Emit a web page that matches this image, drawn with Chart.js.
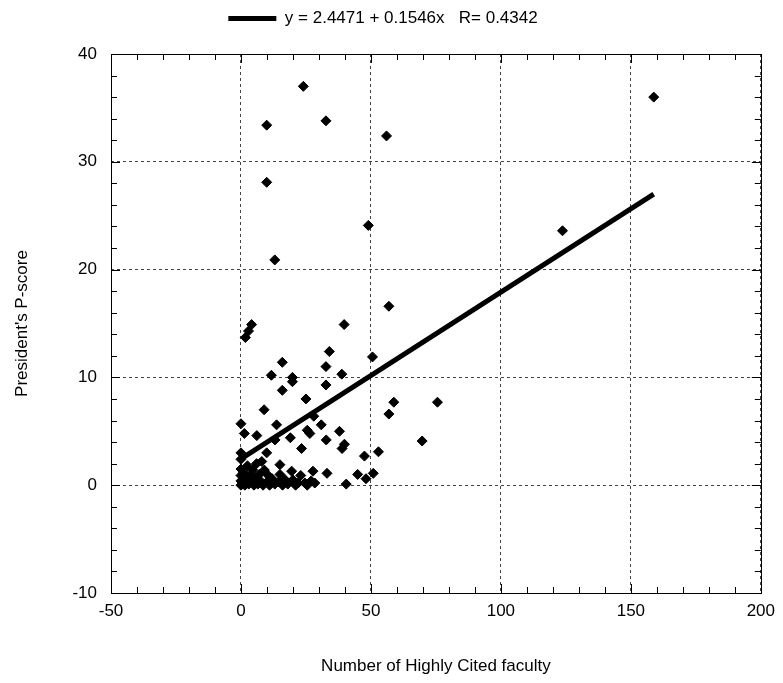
<!DOCTYPE html>
<html>
<head>
<meta charset="utf-8">
<script src="https://cdn.jsdelivr.net/npm/chart.js@4.4.1/dist/chart.umd.min.js"></script>
<style>
  html, body { margin: 0; padding: 0; background: #fff; }
  #wrap { width: 783px; height: 683px; }
</style>
</head>
<body>
<div id="wrap"><canvas id="chart"></canvas></div>
<script>
// scatter points
const hcfX = [24.0, 9.9, 32.7, 56.0, 9.9, 49.0, 13.0, 158.8, 123.7, 56.9, 75.6, 69.7, 58.8, 56.9, 52.9,
  1.7, 2.9, 4.1, 39.7, 34.0, 50.6, 15.9, 32.7, 11.7, 19.8, 19.8, 38.8, 32.7, 15.9, 25.0, 8.9, 28.0,
  0.0, 13.7, 30.9, 37.9, 1.3, 6.1, 25.5, 26.5, 19.0, 13.1, 32.8, 39.8, 38.9, 23.3, 47.5, 9.9,
  0.0, 0.0, 8.0, 15.0, 19.5, 27.7, 33.1, 28.4, 40.5, 44.9, 48.1, 50.9,
  0.0, 0.0, 0.0, 0.0, 0.5, 1.0, 1.5, 2.0, 2.5, 3.0, 3.5, 4.0, 4.5, 5.0, 5.5, 6.0, 6.5, 7.0, 7.5,
  8.5, 9.0, 10.0, 10.5, 11.0, 12.0, 13.0, 14.5, 15.0, 16.0, 17.0, 18.0, 20.0, 21.0, 22.0, 23.0,
  24.6, 25.5, 27.0];
const pScore = [37.0, 33.4, 33.8, 32.4, 28.1, 24.1, 20.9, 36.0, 23.6, 16.6, 7.7, 4.1, 7.7, 6.6, 3.1,
  13.7, 14.3, 14.9, 14.9, 12.4, 11.9, 11.4, 11.0, 10.2, 10.0, 9.6, 10.3, 9.3, 8.8, 8.0, 7.0, 6.4,
  5.7, 5.6, 5.6, 5.0, 4.8, 4.6, 5.1, 4.8, 4.4, 4.2, 4.2, 3.8, 3.4, 3.4, 2.7, 3.0,
  3.0, 2.4, 2.2, 1.9, 1.3, 1.3, 1.1, 0.2, 0.1, 1.0, 0.6, 1.1,
  0.0, 0.4, 0.9, 1.5, 0.2, 1.2, 0.0, 0.6, 1.8, 0.1, 0.9, 0.3, 1.4, 0.0, 0.7, 2.0, 0.1, 1.0, 0.4,
  0.0, 1.4, 0.3, 0.9, 0.0, 0.6, 0.1, 0.3, 1.0, 0.0, 0.5, 0.1, 0.5, 0.0, 0.2, 0.9,
  0.2, 0.0, 0.4];

// regression line end points (from the legend formula)
const fitX = [0, 158.8];
const fitY = [2.45, 27.0];
const fitLabel = "y = 2.4471 + 0.1546x   R= 0.4342";

const xTicks = [-50, 0, 50, 100, 150, 200];
const yTicks = [-10, 0, 10, 20, 30, 40];

const scatterPts = hcfX.map((x, i) => ({ x: x, y: pScore[i] }));
const fitPts = fitX.map((x, i) => ({ x: x, y: fitY[i] }));

const FONT = "'Liberation Sans Narrow', 'Liberation Sans', Arial, sans-serif";

// frame + inward ticks on all four sides, and extra room under the legend
const framePlugin = {
  id: "frame",
  afterInit(chart) {
    const lg = chart.legend;
    if (lg) {
      const fit = lg.fit.bind(lg);
      lg.fit = function () { fit(); this.height += 17; };
    }
  },
  afterDraw(chart) {
    const { ctx, chartArea: a, scales } = chart;
    const xs = scales.x, ys = scales.y;
    ctx.save();
    ctx.strokeStyle = "#000";
    ctx.lineWidth = 1;
    ctx.beginPath();
    for (let v = -50; v <= 200; v += 10) {
      const px = Math.round(xs.getPixelForValue(v)) + 0.5;
      const len = v % 50 === 0 ? 9 : 6;
      ctx.moveTo(px, a.bottom); ctx.lineTo(px, a.bottom - len);
      ctx.moveTo(px, a.top); ctx.lineTo(px, a.top + len);
    }
    for (let v = -10; v <= 40; v += 2) {
      const py = Math.round(ys.getPixelForValue(v)) + 0.5;
      const len = v % 10 === 0 ? 9 : 6;
      ctx.moveTo(a.left, py); ctx.lineTo(a.left + len, py);
      ctx.moveTo(a.right, py); ctx.lineTo(a.right - len, py);
    }
    ctx.stroke();
    ctx.strokeRect(Math.round(a.left) + 0.5, Math.round(a.top) + 0.5,
      Math.round(a.right - a.left), Math.round(a.bottom - a.top));
    ctx.restore();
  }
};

new Chart(document.getElementById("chart"), {
  type: "scatter",
  data: {
    datasets: [
      {
        type: "line",
        label: fitLabel,
        data: fitPts,
        borderColor: "#000",
        backgroundColor: "#000",
        borderWidth: 5,
        pointRadius: 0,
        fill: false,
        order: 0
      },
      {
        label: "points",
        data: scatterPts,
        pointStyle: "rectRot",
        pointRadius: 5,
        pointHoverRadius: 5,
        backgroundColor: "#000",
        borderColor: "#000",
        borderWidth: 1,
        order: 1
      }
    ]
  },
  options: {
    responsive: true,
    maintainAspectRatio: false,
    animation: false,
    layout: { padding: { left: 0, right: 17, top: 0, bottom: 0 } },
    plugins: {
      tooltip: { enabled: false },
      legend: {
        display: true,
        position: "top",
        labels: {
          color: "#000",
          font: { family: FONT, size: 17 },
          boxWidth: 48,
          boxHeight: 5,
          padding: 10,
          generateLabels: () => [{
            text: fitLabel,
            fillStyle: "#000",
            strokeStyle: "#000",
            lineWidth: 0,
            datasetIndex: 0
          }]
        },
        onClick: () => {}
      }
    },
    scales: {
      x: {
        type: "linear",
        min: -50,
        max: 200,
        afterBuildTicks: (s) => { s.ticks = xTicks.map(v => ({ value: v })); },
        afterFit: (s) => { s.height = 90; },
        grid: { color: "#444", lineWidth: 1, drawTicks: false },
        border: { display: false, dash: [3, 3] },
        ticks: { color: "#000", font: { family: FONT, size: 17 }, padding: 8, maxRotation: 0 },
        title: {
          display: true,
          text: "Number of Highly Cited faculty",
          color: "#000",
          font: { family: FONT, size: 17 },
          padding: { top: 0, bottom: 6 }
        }
      },
      y: {
        type: "linear",
        min: -10,
        max: 40,
        afterBuildTicks: (s) => { s.ticks = yTicks.map(v => ({ value: v })); },
        afterFit: (s) => { s.width = 111; },
        grid: { color: "#444", lineWidth: 1, drawTicks: false },
        border: { display: false, dash: [3, 3] },
        ticks: { color: "#000", font: { family: FONT, size: 17 }, padding: 14 },
        title: {
          display: true,
          text: "President's P-score",
          color: "#000",
          font: { family: FONT, size: 17 },
          padding: { top: 12, bottom: 0 }
        }
      }
    }
  },
  plugins: [framePlugin]
});
</script>
</body>
</html>
